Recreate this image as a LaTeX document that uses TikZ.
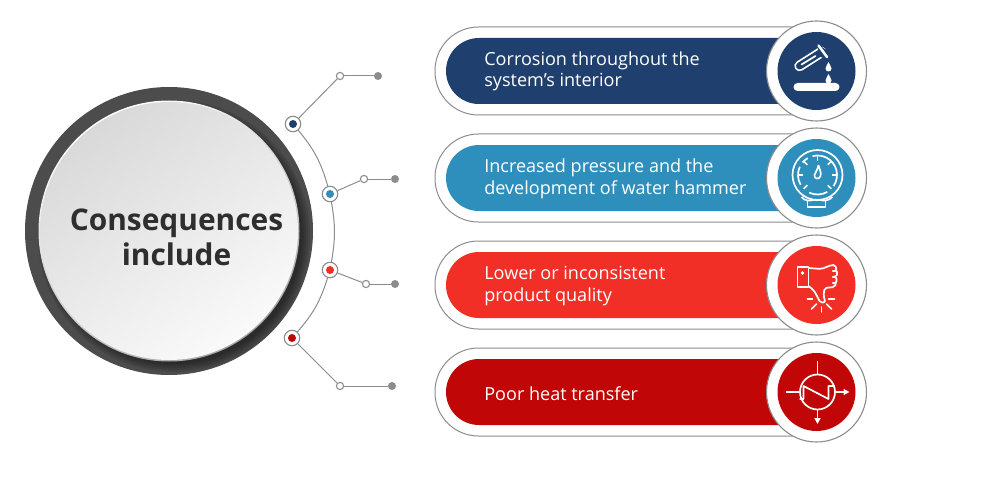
\documentclass[tikz,border=0pt]{standalone}
\usepackage{fontspec}
\setmainfont{Open Sans}
\usetikzlibrary{arrows.meta, positioning}

\definecolor{navyrow}{HTML}{1F3F6E}
\definecolor{bluerow}{HTML}{2E8FBC}
\definecolor{redrow}{HTML}{F22F26}
\definecolor{darkrow}{HTML}{C00606}
\definecolor{edgegray}{HTML}{8C8C8C}
\definecolor{ringgray}{HTML}{4C4C4C}

\tikzset{
    spokeline/.style={draw=edgegray, line width=0.2mm},
    outerdot/.style={circle, draw=edgegray, fill=white, line width=0.22mm, minimum size=3.1mm, inner sep=0pt},
    elbowdot/.style={circle, draw=edgegray, fill=white, line width=0.22mm, minimum size=1.45mm, inner sep=0pt},
    enddot/.style={circle, fill=edgegray, minimum size=1.6mm, inner sep=0pt},
    pilltext/.style={text=white, anchor=west, align=left, inner sep=0pt, font=\fontsize{10.27}{12.2}\selectfont},
    iconline/.style={draw=white, line width=0.34mm, line join=round}
}

\begin{document}
\begin{tikzpicture}[x=0.2mm, y=-0.2mm]
    \useasboundingbox (0,0) rectangle (1000,503);

    % Big circle
    \fill[ringgray] (169,231) circle (144);
    \foreach \r in {128,130,132,134,136}
        \fill[black, opacity=0.1] (174,236) circle (\r);
    \shade[top color=white, bottom color=black!35, shading angle=30] (169,231) circle (130.5);
    \shade[top color=black!15, bottom color=black!2, shading angle=35] (169,231) circle (129);
    \node[font=\fontsize{17}{20.2}\selectfont\bfseries, text=black!82, align=center, inner sep=0pt] (title) at (176.5,237.5) {Consequences\\include};

    % Dots on the arc
    \node[outerdot] (dotA) at (293,124) {};
    \node[outerdot] (dotB) at (330,194) {};
    \node[outerdot] (dotC) at (330,270) {};
    \node[outerdot] (dotD) at (292,338) {};
    \node[elbowdot] (elbowA) at (340,76) {};
    \node[elbowdot] (elbowB) at (364,179) {};
    \node[elbowdot] (elbowC) at (366,284) {};
    \node[elbowdot] (elbowD) at (340,386) {};
    \node[enddot] (endA) at (378,76) {};
    \node[enddot] (endB) at (395,179) {};
    \node[enddot] (endC) at (395,284) {};
    \node[enddot] (endD) at (392,386) {};

    % Arc and spokes
    \draw[spokeline] (dotA) to[bend left=12] (dotB);
    \draw[spokeline] (dotB) to[bend left=10] (dotC);
    \draw[spokeline] (dotC) to[bend left=12] (dotD);
    \foreach \n in {A,B,C,D} {
        \draw[spokeline] (dot\n) -- (elbow\n);
        \draw[spokeline] (elbow\n) -- (end\n);
    }
    \fill[navyrow] (dotA) circle (4);
    \fill[bluerow] (dotB) circle (4);
    \fill[redrow] (dotC) circle (4);
    \fill[darkrow] (dotD) circle (4);

    % Pills and icon circles
    \foreach \y/\c in {71/navyrow, 178/bluerow, 285/redrow, 392/darkrow} {
        \draw[edgegray, line width=0.2mm, rounded corners=8.7mm] (435,\y-44) rectangle (860,\y+44);
        \fill[\c, rounded corners=6.6mm] (446,\y-33) rectangle (850,\y+33);
        \draw[edgegray, line width=0.22mm, fill=white] (816.5,\y) circle (50);
        \fill[\c] (816.5,\y) circle (39);
    }

    % Labels
    \node[pilltext] (textA) at (484,71.5) {Corrosion throughout the\\system’s interior};
    \node[pilltext] (textB) at (484,179) {Increased pressure and the\\development of water hammer};
    \node[pilltext] (textC) at (484,286) {Lower or inconsistent\\product quality};
    \node[pilltext] (textD) at (484,393.5) {Poor heat transfer};

    % Flask icon
    \begin{scope}[shift={(816.5,71)}]
        \draw[iconline, line width=2.1mm, line cap=round] (-17,-5) -- (5,-19);
        \draw[navyrow, line width=1.4mm, line cap=round] (-17,-5) -- (5,-19);
        \fill[navyrow] (0,-27) -- (12,-20) -- (10,-12) -- (4,-14) -- cycle;
        \draw[iconline, line width=0.5mm, line cap=round] (2,-25.5) -- (10.5,-14);
        \draw[iconline, line cap=round] (-15,-6.5) -- (-1,-15);
        \fill[white] (12,-9) .. controls (13,-6) and (15,-4.5) .. (15,-2.5) arc (0:180:3) .. controls (9,-4.5) and (11,-6) .. (12,-9);
        \fill[white] (12,3) .. controls (13,6) and (15,7.5) .. (15,9.5) arc (0:180:3) .. controls (9,7.5) and (11,6) .. (12,3);
        \fill[white, rounded corners=0.8mm] (-23,12) rectangle (23,20);
    \end{scope}

    % Gauge icon
    \begin{scope}[shift={(816.5,178)}]
        \draw[iconline] (1,-3) circle (25);
        \draw[iconline] (1,-3) ++(150:19.5) arc (150:205:19.5);
        \draw[iconline] (1,-3) ++(220:19.5) arc (220:240:19.5);
        \draw[iconline] (1,-3) ++(255:19.5) arc (255:395:19.5);
        \draw[iconline] (1,-3) ++(60:19.5) arc (60:115:19.5);
        \foreach \a in {270,315,0,45,225,180,135}
            \draw[iconline] (1,-3) ++(\a:19.5) -- ++(\a+180:5);
        \draw[iconline] (2,-13) .. controls (3,-8) and (5,-6) .. (4,-2) .. controls (3,2) and (-3,1) .. (-2,-3) .. controls (-1,-6) and (1,-8) .. (2,-13);
        \draw[iconline] (-9,22) -- (-9,29) -- (9,29) -- (9,22);
        \draw[iconline] (-15,19) .. controls (-12,23) and (-7,23) .. (-4,22) -- (4,22) .. controls (7,23) and (12,23) .. (16,19);
    \end{scope}

    % Thumb icon
    \begin{scope}[shift={(816.5,285)}]
        \draw[iconline] (-19,-18) rectangle (-8,2);
        \fill[white] (-14,-12) circle (1.8);
        \draw[iconline, rounded corners=0.4mm] (-8,-17) -- (5,-16) -- (15,-20) -- (19,-20) -- (20,-14) -- (15,-14) -- (21,-14) -- (20,-8) -- (15,-8) -- (20,-8) -- (20,-2) -- (15,-2) -- (20,-2) -- (18,2) -- (8,3) -- (7,11) -- (9,17) -- (4,18) -- (0,10) -- (-3,5) -- (-8,1);
        \foreach \xa/\ya/\xb/\yb in {-9/14/-4/14, -5/24/0/19, 5/22/5/27, 10/19/15/24, 12/14/18/14}
            \draw[iconline, line cap=round] (\xa,\ya) -- (\xb,\yb);
    \end{scope}

    % Exchanger icon
    \begin{scope}[shift={(816.5,392)}]
        \draw[iconline] (1,0) circle (17.5);
        \draw[iconline] (1,-31) -- (1,-17.5);
        \draw[iconline, -{Triangle[length=1.2mm,width=1.2mm]}] (1,17.5) -- (1,32);
        \draw[iconline] (-31,0) -- (-17,0);
        \draw[iconline, -{Triangle[length=1.2mm,width=1.2mm]}] (18.5,0) -- (33,0);
        \draw[iconline] (-17,7) -- (-13,7) -- (-13,-6) -- (12,7) -- (12,-6) -- (18,-6);
    \end{scope}
\end{tikzpicture}
\end{document}
